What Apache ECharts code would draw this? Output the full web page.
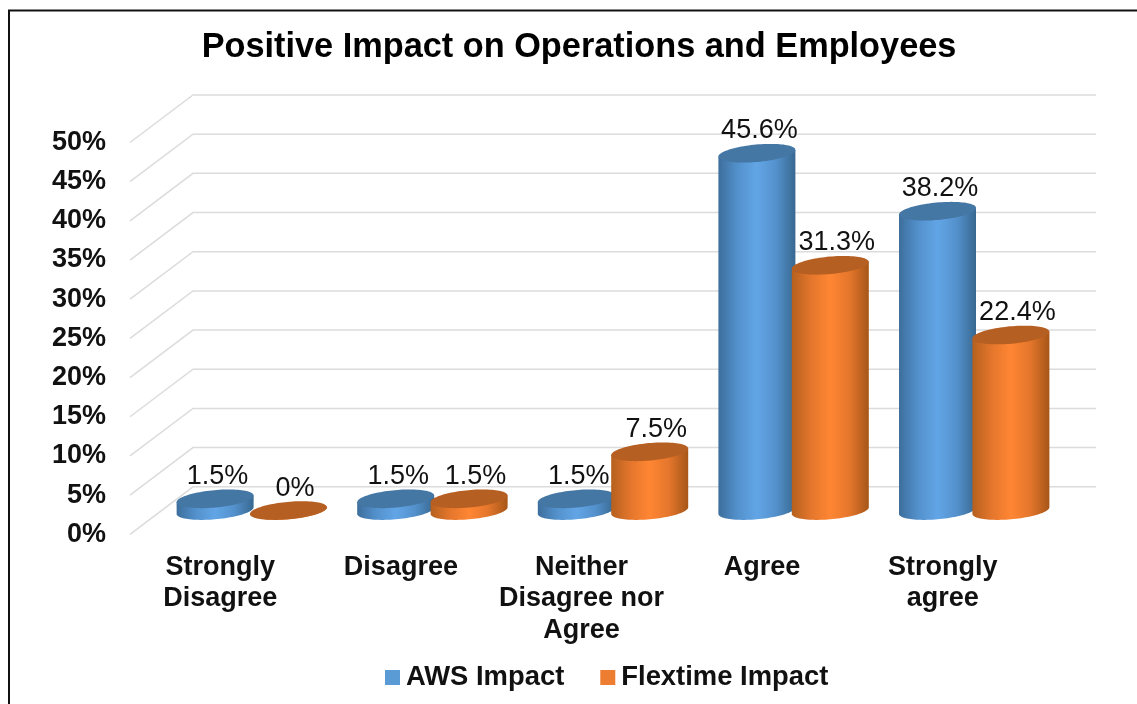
<!DOCTYPE html>
<html><head><meta charset="utf-8">
<script src="https://cdn.jsdelivr.net/npm/echarts@6/dist/echarts.min.js"></script>
<style>html,body{margin:0;padding:0;background:#fff}#c{width:1137px;height:704px}</style>
</head><body><div id="c"></div>
<script>
const categories = ['Strongly\nDisagree', 'Disagree', 'Neither\nDisagree nor\nAgree', 'Agree', 'Strongly\nagree'];
const awsImpact = [1.5, 1.5, 1.5, 45.6, 38.2];
const flextimeImpact = [0, 1.5, 7.5, 31.3, 22.4];
const gridTicks = [0, 5, 10, 15, 20, 25, 30, 35, 40, 45, 50];

const FONT = '"Liberation Sans", Arial, sans-serif';
const DEPTH_X = 63, DEPTH_Y = -47.5, A = 38.65, B = 8.7, TH = 5.2 * Math.PI / 180, OFFSET = 36.7;
const T0 = Math.atan((B * Math.sin(TH)) / (A * Math.cos(TH)));
function ell(c, t) {
  return [c[0] + A * Math.cos(t) * Math.cos(TH) + B * Math.sin(t) * Math.sin(TH),
          c[1] - A * Math.cos(t) * Math.sin(TH) + B * Math.sin(t) * Math.cos(TH)];
}
function hGrad(stops) {
  return { type: 'linear', x: 0, y: 0, x2: 1, y2: 0, colorStops: stops.map((c) => ({ offset: c[0], color: c[1] })) };
}
function cylinder(sign, side, topColor, labelDx) {
  return function (params, api) {
    const i = api.value(0), v = api.value(1);
    const top = api.coord([i, v]), base = api.coord([i, 0]);
    const dx = DEPTH_X / 2 + sign * OFFSET, dy = DEPTH_Y / 2;
    const ct = [top[0] + dx, top[1] + dy], cb = [base[0] + dx, base[1] + dy];
    const body = [], cap = [];
    const N = 48;
    for (let k = 0; k <= N; k++) body.push(ell(cb, T0 + Math.PI - Math.PI * k / N));
    body.push(ell(ct, T0)); body.push(ell(ct, T0 + Math.PI));
    for (let k = 0; k < 2 * N; k++) cap.push(ell(ct, 2 * Math.PI * k / (2 * N)));
    return { type: 'group', children: [
      { type: 'polygon', shape: { points: body }, style: { fill: side } },
      { type: 'polygon', shape: { points: cap }, style: { fill: topColor } },
      { type: 'text', z2: 50, style: { x: ct[0] + labelDx, y: ct[1] - 22.5, text: v + '%', fill: '#111', align: 'center', verticalAlign: 'middle', font: '27px ' + FONT } }
    ] };
  };
}
const wall = function (params, api) {
  const y = api.coord([0, api.value(1)])[1], r = params.coordSys;
  return { type: 'polyline', shape: { points: [[r.x, y], [r.x + DEPTH_X, y + DEPTH_Y], [r.x + r.width + DEPTH_X, y + DEPTH_Y]] },
           style: { stroke: '#dcdcdc', lineWidth: 1.5, fill: null } };
};
const chart = echarts.init(document.getElementById('c'), null, { renderer: 'canvas' });
chart.setOption({
  animation: false,
  backgroundColor: '#fff',
  title: { text: 'Positive Impact on Operations and Employees', left: 574, top: 26, textAlign: 'center',
           textStyle: { fontFamily: FONT, fontSize: 34.3, fontWeight: 'bold', color: '#000' } },
  legend: { left: 380, top: 659, itemWidth: 15, itemHeight: 15, itemGap: 36, icon: 'rect', data: ['AWS Impact', 'Flextime Impact'],
            textStyle: { fontFamily: FONT, fontSize: 27.4, fontWeight: 'bold', color: '#111', padding: [0, 0, 0, 1] } },
  grid: { left: 130, right: 104, top: 142.5, bottom: 169.7 },
  xAxis: { type: 'category', data: categories, axisLine: { show: false }, axisTick: { show: false },
           axisLabel: { interval: 0, margin: 17, lineHeight: 31.5, fontFamily: FONT, fontSize: 27, fontWeight: 'bold', color: '#111' } },
  yAxis: { type: 'value', min: 0, max: 50, interval: 5, axisLine: { show: false }, axisTick: { show: false }, splitLine: { show: false },
           axisLabel: { margin: 24, padding: [5, 0, 0, 0], formatter: '{value}%', fontFamily: FONT, fontSize: 27, fontWeight: 'bold', color: '#111' } },
  graphic: [
    { type: 'polyline', silent: true, shape: { points: [[9, 704], [9, 10.5], [1137, 10.5]] }, style: { stroke: '#111', lineWidth: 2, fill: null } }
  ],
  series: [
    { type: 'custom', name: 'wall', silent: true, z: 1, renderItem: wall, data: gridTicks.map(v => [0, v]), encode: { x: 0, y: 1 } },
    { type: 'custom', name: 'AWS Impact', z: 2, itemStyle: { color: '#5B9BD5' }, encode: { x: 0, y: 1 },
      renderItem: cylinder(-1, hGrad([[0, '#3d6e9c'], [0.25, '#5391cc'], [0.5, '#62a5e6'], [0.75, '#5391cc'], [1, '#386890']]), '#4577a5', 2.5),
      data: awsImpact.map((v, i) => [i, v]) },
    { type: 'custom', name: 'Flextime Impact', z: 3, itemStyle: { color: '#ED7D31' }, encode: { x: 0, y: 1 },
      renderItem: cylinder(1, hGrad([[0, '#b5601f'], [0.25, '#e4762c'], [0.5, '#ff8633'], [0.75, '#e4762c'], [1, '#a65618']]), '#b65f22', 6.5),
      data: flextimeImpact.map((v, i) => [i, v]) }
  ]
});
</script></body></html>
